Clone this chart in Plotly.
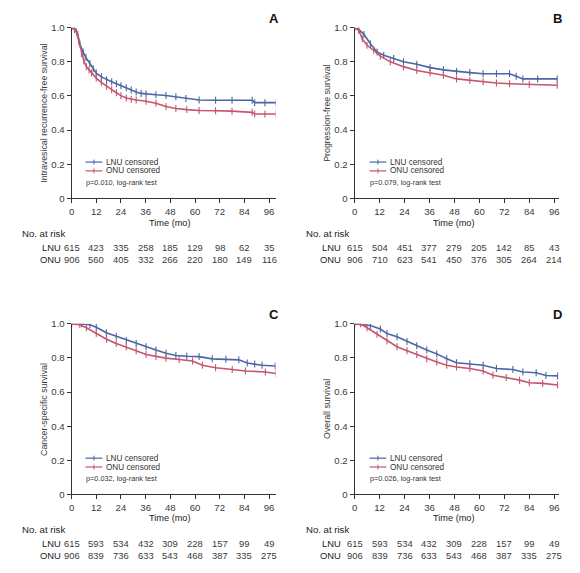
import plotly.graph_objects as go

# ---------------- data ----------------
xticks = [0, 12, 24, 36, 48, 60, 72, 84, 96]
ytick_vals = [0, 0.2, 0.4, 0.6, 0.8, 1.0]
ytick_text = ["0", "0.2", "0.4", "0.6", "0.8", "1.0"]

a_lnu_t = [0, 1.5, 3, 4, 5.6, 7, 8.9, 10.5, 12, 14.5, 17, 19.5, 21.8, 24, 26.6, 29, 31.4, 33.8, 36.2, 41, 45.9, 50.7, 55.6, 62, 70, 78, 87.8, 89, 94, 99.4]
a_lnu_s = [1.0, 0.995, 0.96, 0.906, 0.858, 0.825, 0.79, 0.76, 0.734, 0.712, 0.695, 0.683, 0.672, 0.66, 0.648, 0.635, 0.623, 0.615, 0.611, 0.607, 0.603, 0.596, 0.585, 0.576, 0.575, 0.575, 0.575, 0.561, 0.561, 0.561]
a_onu_t = [0, 1.5, 2.4, 3.5, 4.8, 6, 7.2, 8.5, 9.7, 12, 14.5, 17, 19.5, 21.8, 24, 26.6, 29, 31.4, 36.2, 41, 45.9, 50.7, 56, 62, 70, 78, 87.8, 89, 94, 99.4]
a_onu_s = [1.0, 0.99, 0.975, 0.92, 0.849, 0.805, 0.772, 0.752, 0.734, 0.705, 0.68, 0.657, 0.637, 0.619, 0.602, 0.588, 0.581, 0.576, 0.569, 0.557, 0.538, 0.527, 0.52, 0.515, 0.513, 0.511, 0.504, 0.494, 0.494, 0.494]

b_lnu_t = [0, 2, 4.5, 7.6, 10.8, 14, 18.8, 23.5, 29.9, 36.3, 42.7, 49, 55.4, 61.8, 68.2, 74.5, 77.7, 80.9, 88, 97.4]
b_lnu_s = [1.0, 0.99, 0.961, 0.906, 0.858, 0.839, 0.82, 0.801, 0.786, 0.766, 0.753, 0.743, 0.737, 0.73, 0.73, 0.73, 0.715, 0.70, 0.70, 0.70]
b_onu_t = [0, 2, 3.7, 6, 9.2, 12.4, 17.2, 23.5, 29.9, 36.3, 42.7, 49, 55.4, 61.8, 68.2, 74.5, 84, 97.4]
b_onu_s = [1.0, 0.985, 0.935, 0.897, 0.868, 0.833, 0.80, 0.772, 0.749, 0.734, 0.722, 0.70, 0.691, 0.684, 0.676, 0.672, 0.667, 0.663]

c_lnu_t = [0, 5, 8.9, 12, 16.9, 21.7, 26.6, 31.4, 36.2, 41, 45.9, 50.7, 56, 62, 68.4, 75, 81.3, 85.4, 89, 92.6, 99]
c_lnu_s = [1.0, 1.0, 0.995, 0.98, 0.948, 0.928, 0.903, 0.885, 0.866, 0.847, 0.828, 0.814, 0.81, 0.808, 0.795, 0.792, 0.789, 0.77, 0.765, 0.757, 0.753]
c_onu_t = [0, 4, 7.2, 12, 17, 21.7, 26.6, 31.4, 36.2, 41, 45.9, 52.3, 58.8, 63.6, 70, 78.1, 84.5, 94.2, 99.4]
c_onu_s = [1.0, 0.995, 0.977, 0.943, 0.91, 0.885, 0.866, 0.843, 0.82, 0.808, 0.799, 0.791, 0.782, 0.757, 0.743, 0.732, 0.724, 0.718, 0.709]

d_lnu_t = [0, 7.6, 12.4, 15.6, 20.4, 25.2, 29.9, 34.7, 39.5, 44.3, 49, 55.4, 61.8, 68.2, 76.1, 80.9, 87.3, 92, 97.6]
d_lnu_s = [1.0, 0.99, 0.97, 0.943, 0.924, 0.897, 0.872, 0.847, 0.824, 0.795, 0.772, 0.766, 0.757, 0.738, 0.732, 0.718, 0.713, 0.697, 0.695]
d_onu_t = [0, 2.9, 6, 10.8, 15.6, 20.4, 25.2, 29.9, 34.7, 39.5, 44.3, 49, 55.4, 61.8, 66.5, 72.9, 79.3, 84, 90.4, 97.6]
d_onu_s = [1.0, 1.0, 0.977, 0.939, 0.9, 0.866, 0.843, 0.82, 0.795, 0.776, 0.757, 0.747, 0.738, 0.724, 0.699, 0.686, 0.67, 0.655, 0.651, 0.642]

a_risk_lnu = [615, 423, 335, 258, 185, 129, 98, 62, 35]
a_risk_onu = [906, 560, 405, 332, 266, 220, 180, 149, 116]
b_risk_lnu = [615, 504, 451, 377, 279, 205, 142, 85, 43]
b_risk_onu = [906, 710, 623, 541, 450, 376, 305, 264, 214]
c_risk_lnu = [615, 593, 534, 432, 309, 228, 157, 99, 49]
c_risk_onu = [906, 839, 736, 633, 543, 468, 387, 335, 275]
d_risk_lnu = [615, 593, 534, 432, 309, 228, 157, 99, 49]
d_risk_onu = [906, 839, 736, 633, 543, 468, 387, 335, 275]

panel_letters = ["A", "B", "C", "D"]
y_titles = ["Intravesical recurrence-free survival", "Progression-free survival",
            "Cancer-specific survival", "Overall survival"]
p_texts = ["p=0.010, log-rank test", "p=0.079, log-rank test",
           "p=0.032, log-rank test", "p=0.026, log-rank test"]
series_names = ["LNU", "ONU"]

# ---------------- styling / layout ----------------
# the page body has an 8px margin; the figure is sized to fit the 580x573 window
OFF = 8
W, H = 580 - OFF, 573 - OFF
FONT = "Liberation Sans, Arial, Helvetica, sans-serif"
BLUE = "#4a66a5"
RED = "#c5566b"
AXC = "#333333"
TXT = "#3a3a3a"


def px(x):
    return (x - OFF) / W


def py(y):
    return 1 - (y - OFF) / H


panels = [
    dict(x0=69, x1=274.5, xmax=99.2, y0=22, y1=196, letter_x=273, letter_y=13,
         ytitle_x=41, leg_x=83, time_y=221.5, risk_y=232, lab_x=60, nar_x=17),
    dict(x0=354, x1=559.5, xmax=98.1, y0=22, y1=196, letter_x=558, letter_y=13,
         ytitle_x=326, leg_x=369, time_y=221.5, risk_y=232, lab_x=342, nar_x=303),
    dict(x0=69, x1=274.5, xmax=99.2, y0=324, y1=498, letter_x=273, letter_y=314,
         ytitle_x=41, leg_x=83, time_y=522.5, risk_y=534, lab_x=60, nar_x=17),
    dict(x0=354, x1=559.5, xmax=98.1, y0=324, y1=498, letter_x=558, letter_y=314,
         ytitle_x=326, leg_x=369, time_y=522.5, risk_y=534, lab_x=342, nar_x=303),
]

curves = [
    ((a_lnu_t, a_lnu_s), (a_onu_t, a_onu_s)),
    ((b_lnu_t, b_lnu_s), (b_onu_t, b_onu_s)),
    ((c_lnu_t, c_lnu_s), (c_onu_t, c_onu_s)),
    ((d_lnu_t, d_lnu_s), (d_onu_t, d_onu_s)),
]
risks = [
    (a_risk_lnu, a_risk_onu),
    (b_risk_lnu, b_risk_onu),
    (c_risk_lnu, c_risk_onu),
    (d_risk_lnu, d_risk_onu),
]

fig = go.Figure()
annotations = []
shapes = []
layout_axes = {}
colors = [BLUE, RED]

for i, p in enumerate(panels):
    k = "" if i == 0 else str(i + 1)
    xa, ya = "x" + k, "y" + k
    layout_axes["xaxis" + k] = dict(
        domain=[px(p["x0"]), px(p["x1"])], range=[0, p["xmax"]], anchor=ya,
        tickmode="array", tickvals=xticks, ticks="outside", ticklen=4, tickwidth=1,
        tickcolor=AXC, showline=True, linecolor=AXC, linewidth=1, showgrid=False,
        zeroline=False, tickfont=dict(family=FONT, size=9.6, color=TXT), fixedrange=True,
    )
    layout_axes["yaxis" + k] = dict(
        domain=[py(p["y1"]), py(p["y0"])], range=[0, 1.0], anchor=xa,
        tickmode="array", tickvals=ytick_vals, ticktext=ytick_text, ticks="outside",
        ticklen=4, tickwidth=1, tickcolor=AXC, showline=True, linecolor=AXC, linewidth=1,
        showgrid=False, zeroline=False, tickfont=dict(family=FONT, size=9.6, color=TXT),
        fixedrange=True,
    )
    for j, (t, s) in enumerate(curves[i]):
        fig.add_trace(go.Scatter(
            x=t, y=s, xaxis=xa, yaxis=ya, mode="lines+markers",
            line=dict(color=colors[j], width=1.6),
            marker=dict(symbol="line-ns", size=5, line=dict(color=colors[j], width=1.1)),
            name=series_names[j] + " censored", showlegend=False, hoverinfo="skip",
        ))
    # panel letter
    annotations.append(dict(x=px(p["letter_x"]), y=py(p["letter_y"]), xref="paper", yref="paper",
                            text="<b>%s</b>" % panel_letters[i], showarrow=False,
                            font=dict(family=FONT, size=13, color="#111"),
                            xanchor="center", yanchor="middle"))
    # y title
    annotations.append(dict(x=px(p["ytitle_x"]), y=py((p["y0"] + p["y1"]) / 2), xref="paper",
                            yref="paper", text=y_titles[i], textangle=-90, showarrow=False,
                            font=dict(family=FONT, size=8.8, color=TXT),
                            xanchor="center", yanchor="middle"))
    # x title
    annotations.append(dict(x=48, y=py(p["time_y"]), xref=xa, yref="paper", text="Time (mo)",
                            showarrow=False, font=dict(family=FONT, size=9.2, color="#222"),
                            xanchor="center", yanchor="middle"))
    # legend
    base = p["y1"]
    for j, off in enumerate([37, 28]):
        yy = py(base - off)
        shapes.append(dict(type="line", xref="paper", yref="paper",
                           x0=px(p["leg_x"]), x1=px(p["leg_x"] + 17), y0=yy, y1=yy,
                           line=dict(color=colors[j], width=1.2)))
        shapes.append(dict(type="line", xref="paper", yref="paper",
                           x0=px(p["leg_x"] + 8.5), x1=px(p["leg_x"] + 8.5),
                           y0=py(base - off - 2.5), y1=py(base - off + 2.5),
                           line=dict(color=colors[j], width=1)))
        annotations.append(dict(x=px(p["leg_x"] + 19), y=yy, xref="paper", yref="paper",
                                text=series_names[j] + " censored", showarrow=False,
                                font=dict(family=FONT, size=8.2, color="#333"),
                                xanchor="left", yanchor="middle"))
    annotations.append(dict(x=px(p["leg_x"] - 1), y=py(base - 16), xref="paper", yref="paper",
                            text=p_texts[i], showarrow=False,
                            font=dict(family=FONT, size=7.3, color="#333"),
                            xanchor="left", yanchor="middle"))
    # risk table
    annotations.append(dict(x=px(p["nar_x"]), y=py(p["risk_y"]), xref="paper", yref="paper",
                            text="No. at risk", showarrow=False,
                            font=dict(family=FONT, size=9.6, color="#222"),
                            xanchor="left", yanchor="middle"))
    for j, off in enumerate([14, 26]):
        yy = py(p["risk_y"] + off)
        annotations.append(dict(x=px(p["lab_x"]), y=yy, xref="paper", yref="paper",
                                text=series_names[j], showarrow=False,
                                font=dict(family=FONT, size=9.4, color="#222"),
                                xanchor="right", yanchor="middle"))
        for tv, n in zip(xticks, risks[i][j]):
            annotations.append(dict(x=tv, y=yy, xref=xa, yref="paper", text=str(n),
                                    showarrow=False,
                                    font=dict(family=FONT, size=9.4, color=TXT),
                                    xanchor="center", yanchor="middle"))

fig.update_layout(
    width=W, height=H, margin=dict(l=0, r=0, t=0, b=0),
    paper_bgcolor="white", plot_bgcolor="white",
    annotations=annotations, shapes=shapes, showlegend=False,
    font=dict(family=FONT, color=TXT),
    **layout_axes,
)

fig.write_html("out.html")
